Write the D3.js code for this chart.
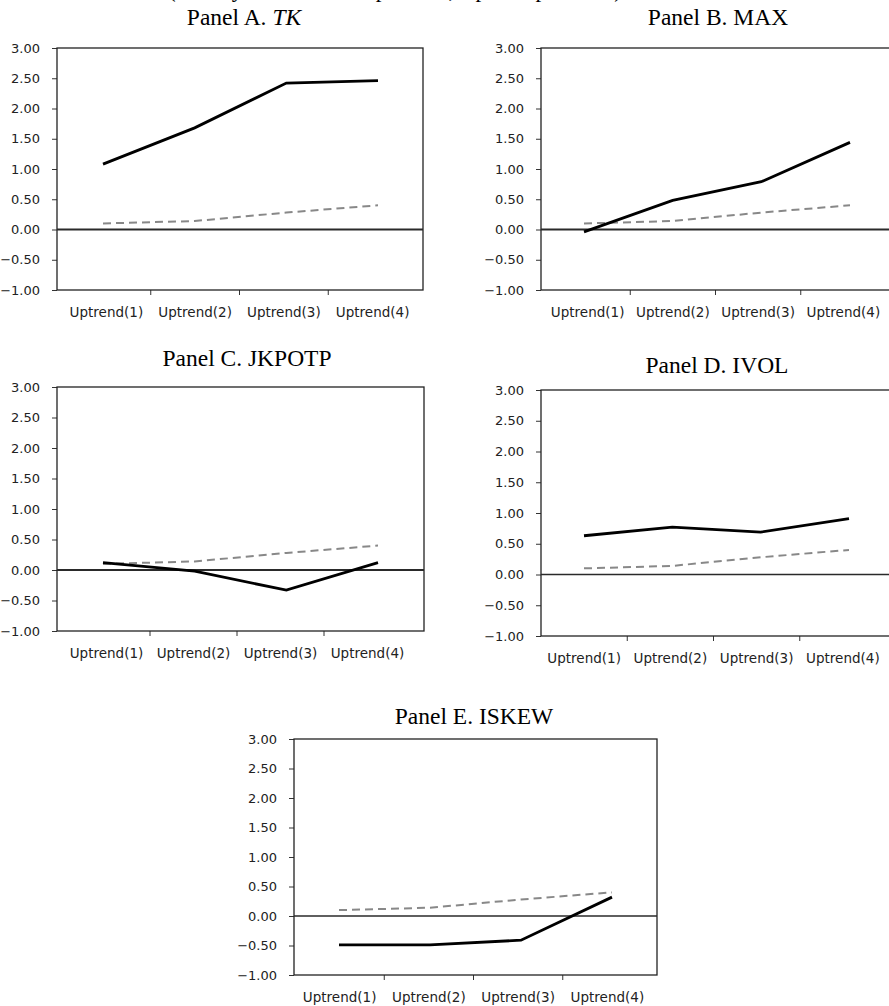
<!DOCTYPE html>
<html>
<head>
<meta charset="utf-8">
<script src="https://cdn.jsdelivr.net/npm/d3@7"></script>
<style>
	body { margin: 0; background: #fff; }
	svg { display: block; }
</style>
</head>
<body>
<svg width="889" height="1006"></svg>
<script>
// Chart data
const categories = ['Uptrend(1)', 'Uptrend(2)', 'Uptrend(3)', 'Uptrend(4)'];
const yTicks = [-1, -0.5, 0, 0.5, 1, 1.5, 2, 2.5, 3];
const benchmark = [0.10, 0.14, 0.28, 0.40]; // dashed grey line, same in every panel
const tkValues = [1.08, 1.68, 2.42, 2.46];
const maxValues = [-0.04, 0.48, 0.79, 1.44];
const jkpotpValues = [0.12, -0.02, -0.33, 0.12];
const ivolValues = [0.63, 0.77, 0.69, 0.91];
const iskewValues = [-0.49, -0.49, -0.41, 0.32];

let svg = d3.select('svg');

// Layout of each panel: frame box, category band range, line point range, title spot
const panels = [
	{ title: 'Panel A. ', italic: 'TK', values: tkValues, zw: 2,
		box: [57, 423, 48, 290], band: [62, 417], pts: [103, 378], tx: 244, ty: 25 },
	{ title: 'Panel B. MAX', values: maxValues, zw: 2,
		box: [541, 895, 48, 290], band: [545, 886], pts: [584, 850], tx: 718, ty: 25 },
	{ title: 'Panel C. JKPOTP', values: jkpotpValues, zw: 2,
		box: [57, 424, 387, 631], band: [63, 411], pts: [103, 378], tx: 247, ty: 366 },
	{ title: 'Panel D. IVOL', values: ivolValues, zw: 1.5,
		box: [541, 895, 390, 636], band: [541, 886], pts: [584, 849], tx: 717, ty: 373 },
	{ title: 'Panel E. ISKEW', values: iskewValues, zw: 1.5,
		box: [294, 657, 739, 975], band: [295, 652], pts: [339, 612], tx: 474, ty: 724 }
];

// line of text above the panels, cut off by the top edge
svg.append('text')
	.attr('x', 168).attr('y', -3)
	.attr('textLength', 454)
	.style('font-family', '"Liberation Serif", "Times New Roman", serif')
	.style('font-size', '23px')
	.text('(Monthly excess returns of portfolios, in percent per month)');

function drawPanel(p)
{
	let [x0, x1, y0, y1] = p.box;
	let g = svg.append('g');

	let y = d3.scaleLinear().domain([-1, 3]).range([y1, y0]);
	let xBand = d3.scaleBand().domain(categories).range(p.band);
	let xPt = d3.scalePoint().domain(categories).range(p.pts);

	// y axis labels + small ticks
	let yAxis = g.append('g')
		.attr('transform', 'translate(' + x0 + ',0)')
		.call(d3.axisLeft(y).tickValues(yTicks).tickFormat(d3.format('.2f')).tickSize(5).tickPadding(12));
	yAxis.select('.domain').remove();
	yAxis.selectAll('line').attr('stroke', '#333');

	// x axis labels at band centers
	let xAxis = g.append('g')
		.attr('transform', 'translate(0,' + y1 + ')')
		.call(d3.axisBottom(xBand).tickSize(0).tickPadding(17));
	xAxis.select('.domain').remove();

	yAxis.selectAll('.tick text')
		.attr('fill', '#222')
		.style('font-family', '"DejaVu Sans", sans-serif')
		.style('font-size', '13px');
	xAxis.selectAll('.tick text')
		.attr('fill', '#222')
		.style('font-family', '"DejaVu Sans", sans-serif')
		.style('font-size', '13.5px');

	// ticks between categories
	g.selectAll('line.sep')
		.data(categories.slice(1))
		.enter()
		.append('line')
		.attr('x1', d => xBand(d)).attr('x2', d => xBand(d))
		.attr('y1', y1).attr('y2', y1 + 5)
		.attr('stroke', '#333');

	// frame
	g.append('rect')
		.attr('x', x0).attr('y', y0)
		.attr('width', x1 - x0).attr('height', y1 - y0)
		.attr('fill', 'none')
		.attr('stroke', '#222')
		.attr('stroke-width', 1.3);

	// zero line
	g.append('line')
		.attr('x1', x0).attr('x2', x1)
		.attr('y1', y(0)).attr('y2', y(0))
		.attr('stroke', '#2a2a2a')
		.attr('stroke-width', p.zw);

	let line = d3.line()
		.x((d, i) => xPt(categories[i]))
		.y(d => y(d));

	g.append('path')
		.datum(benchmark)
		.attr('d', line)
		.attr('fill', 'none')
		.attr('stroke', '#888')
		.attr('stroke-width', 2)
		.attr('stroke-dasharray', '8,5');

	g.append('path')
		.datum(p.values)
		.attr('d', line)
		.attr('fill', 'none')
		.attr('stroke', '#000')
		.attr('stroke-width', 2.8);

	// title
	let t = g.append('text')
		.attr('x', p.tx).attr('y', p.ty)
		.attr('text-anchor', 'middle')
		.attr('fill', '#000')
		.style('font-family', '"Liberation Serif", "Times New Roman", serif')
		.style('font-size', '23.5px')
		.text(p.title);
	if (p.italic)
		t.append('tspan').style('font-style', 'italic').text(p.italic);
}

panels.forEach(drawPanel);
</script>
</body>
</html>
